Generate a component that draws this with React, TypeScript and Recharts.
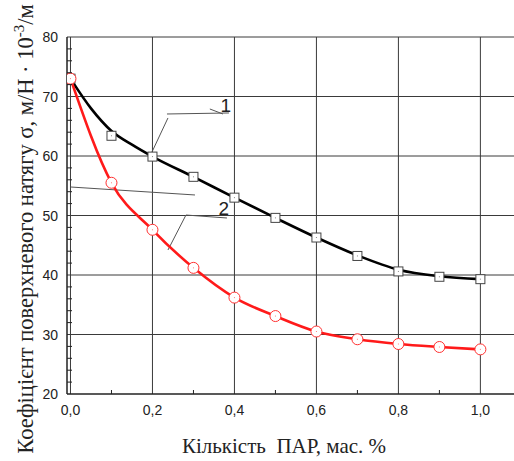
import React from 'react';
import { ComposedChart, Line, XAxis, YAxis, ReferenceLine } from 'recharts';

// ПАР concentration, mass %
const concentration = [0, 0.1, 0.2, 0.3, 0.4, 0.5, 0.6, 0.7, 0.8, 0.9, 1.0];
// measured surface tension, curve 1 (squares) and curve 2 (circles)
const sigma1 = [73, 63.4, 59.9, 56.5, 53.0, 49.6, 46.3, 43.2, 40.6, 39.7, 39.3];
const sigma2 = [73, 55.5, 47.6, 41.2, 36.2, 33.1, 30.5, 29.2, 28.4, 27.9, 27.5];
// smoothed curve 1 as drawn on the picture
const fitX1 = [0, 0.05, 0.1, 0.15, 0.2, 0.3, 0.4, 0.5, 0.6, 0.7, 0.8, 0.9, 1.0];
const fitY1 = [73, 68.0, 64.2, 61.9, 59.9, 56.5, 53.0, 49.6, 46.3, 43.3, 40.9, 39.8, 39.3];

const xTicks = [0, 0.1, 0.2, 0.3, 0.4, 0.5, 0.6, 0.7, 0.8, 0.9, 1.0];
const yTicks = Array.from({ length: 31 }, (_, i) => 20 + i * 2);
const xGrid = [0, 0.2, 0.4, 0.6, 0.8, 1.0];
const yGrid = [30, 40, 50, 60, 70, 80];

const points1 = concentration.map((x, i) => ({ x, y: sigma1[i] }));
const points2 = concentration.map((x, i) => ({ x, y: sigma2[i] }));
const fit1 = fitX1.map((x, i) => ({ x, y: fitY1[i] }));

// leader lines for the curve labels
const leaders = [
  [{ x: 0.2354, y: 67.06 }, { x: 0.3866, y: 67.23 }],
  [{ x: 0.34, y: 67.9 }, { x: 0.372, y: 67.06 }],
  [{ x: 0.2378, y: 66.39 }, { x: 0.1988, y: 60.67 }],
  [{ x: 0.2817, y: 50.08 }, { x: 0.3817, y: 49.58 }],
  [{ x: 0.2817, y: 50.08 }, { x: 0.2378, y: 44.2 }],
  [{ x: 0, y: 54.79 }, { x: 0.3037, y: 53.45 }],
];

const SANS = '"Liberation Sans", Arial, sans-serif';
const SERIF = '"Liberation Serif", "Times New Roman", serif';
const GRID = '#3a3a3a';

const XTick = (props: any) => {
  const { x, y, payload } = props;
  const v = payload.value;
  const major = Math.round(v * 10) % 2 === 0;
  return (
    <g>
      {!major && <line x1={x} x2={x} y1={y} y2={y - 4} stroke="#222" />}
      {major && (
        <text x={x} y={y + 21} textAnchor="middle" fontSize={14} fill="#222" fontFamily={SANS}>
          {v.toFixed(1).replace('.', ',')}
        </text>
      )}
    </g>
  );
};

const YTick = (props: any) => {
  const { x, y, payload } = props;
  const v = Math.round(payload.value);
  const major = v % 10 === 0;
  return (
    <g>
      {!major && <line x1={x} x2={x + 5} y1={y} y2={y} stroke="#222" />}
      {major && (
        <text x={x - 9} y={y + 5} textAnchor="end" fontSize={14} fill="#222" fontFamily={SANS}>
          {v}
        </text>
      )}
    </g>
  );
};

const Square = (props: any) => {
  const { cx, cy } = props;
  if (cx == null || cy == null) return null;
  return (
    <g>
      <rect x={cx - 4.5} y={cy - 4.5} width={9} height={9} fill="#fff" stroke="#444" strokeWidth={1} />
      <rect x={cx - 0.5} y={cy - 0.5} width={1} height={1} fill="#888" />
    </g>
  );
};

const Circle = (props: any) => {
  const { cx, cy } = props;
  if (cx == null || cy == null) return null;
  return (
    <g>
      <circle cx={cx} cy={cy} r={5.5} fill="#fff" stroke="#ff3030" strokeWidth={1} />
      <rect x={cx - 0.5} y={cy - 0.5} width={1} height={1} fill="#ff8080" />
    </g>
  );
};

const YLabel = () => (
  <text
    transform="translate(33, 229) rotate(-90)"
    textAnchor="middle"
    fontSize={22.5}
    fill="#222"
    fontFamily={SERIF}
  >
    Коефіцієнт поверхневого натягу σ, м/Н · 10<tspan fontSize={15} dy={-9}>-3</tspan>
    <tspan dy={9}>/м</tspan>
  </text>
);

const XLabel = () => (
  <text x={284} y={453} textAnchor="middle" fontSize={21} fill="#222" fontFamily={SERIF} style={{ whiteSpace: 'pre' }}>
    {'Кількість  ПАР, мас. %'}
  </text>
);

const App = () => {
  return (
    <div style={{ position: 'absolute', left: 0, top: 0, width: 514, height: 461, background: '#fff' }}>
      <ComposedChart width={514} height={461} margin={{ top: 37, right: 0, left: 0, bottom: 0 }}>
        <XAxis
          type="number"
          dataKey="x"
          domain={[-0.0085, 1.082]}
          ticks={xTicks}
          interval={0}
          allowDataOverflow
          tickLine={false}
          tickSize={0}
          tickMargin={0}
          tick={<XTick />}
          axisLine={{ stroke: '#222', strokeWidth: 1.5 }}
          height={67}
          label={{ content: () => <XLabel /> }}
        />
        <YAxis
          type="number"
          domain={[20, 80]}
          ticks={yTicks}
          interval={0}
          allowDataOverflow
          tickLine={false}
          tickSize={0}
          tickMargin={0}
          tick={<YTick />}
          axisLine={{ stroke: '#222', strokeWidth: 1.5 }}
          width={67}
          label={{ content: () => <YLabel /> }}
        />
        {xGrid.map((v) => (
          <ReferenceLine key={`gx${v}`} x={v} stroke={GRID} strokeWidth={1} />
        ))}
        {yGrid.map((v) => (
          <ReferenceLine key={`gy${v}`} y={v} stroke={GRID} strokeWidth={1} />
        ))}
        {leaders.map((seg, i) => (
          <ReferenceLine key={`ld${i}`} segment={seg} stroke="#555" strokeWidth={1} ifOverflow="visible" />
        ))}
        <ReferenceLine
          segment={[{ x: 0.379, y: 68.6 }, { x: 0.379, y: 68.6 }]}
          stroke="none"
          label={{ value: '1', fontSize: 19, fill: '#222', fontFamily: SANS }}
        />
        <ReferenceLine
          segment={[{ x: 0.374, y: 51.3 }, { x: 0.374, y: 51.3 }]}
          stroke="none"
          label={{ value: '2', fontSize: 19, fill: '#222', fontFamily: SANS }}
        />
        <Line
          data={fit1}
          dataKey="y"
          type="monotone"
          stroke="#000"
          strokeWidth={2.6}
          dot={false}
          isAnimationActive={false}
        />
        <Line
          data={points2}
          dataKey="y"
          type="monotone"
          stroke="#ff1a1a"
          strokeWidth={2.6}
          dot={false}
          isAnimationActive={false}
        />
        <Line
          data={points1}
          dataKey="y"
          stroke="none"
          dot={<Square />}
          activeDot={false}
          isAnimationActive={false}
        />
        <Line
          data={points2}
          dataKey="y"
          stroke="none"
          dot={<Circle />}
          activeDot={false}
          isAnimationActive={false}
        />
      </ComposedChart>
    </div>
  );
};

export default App;
